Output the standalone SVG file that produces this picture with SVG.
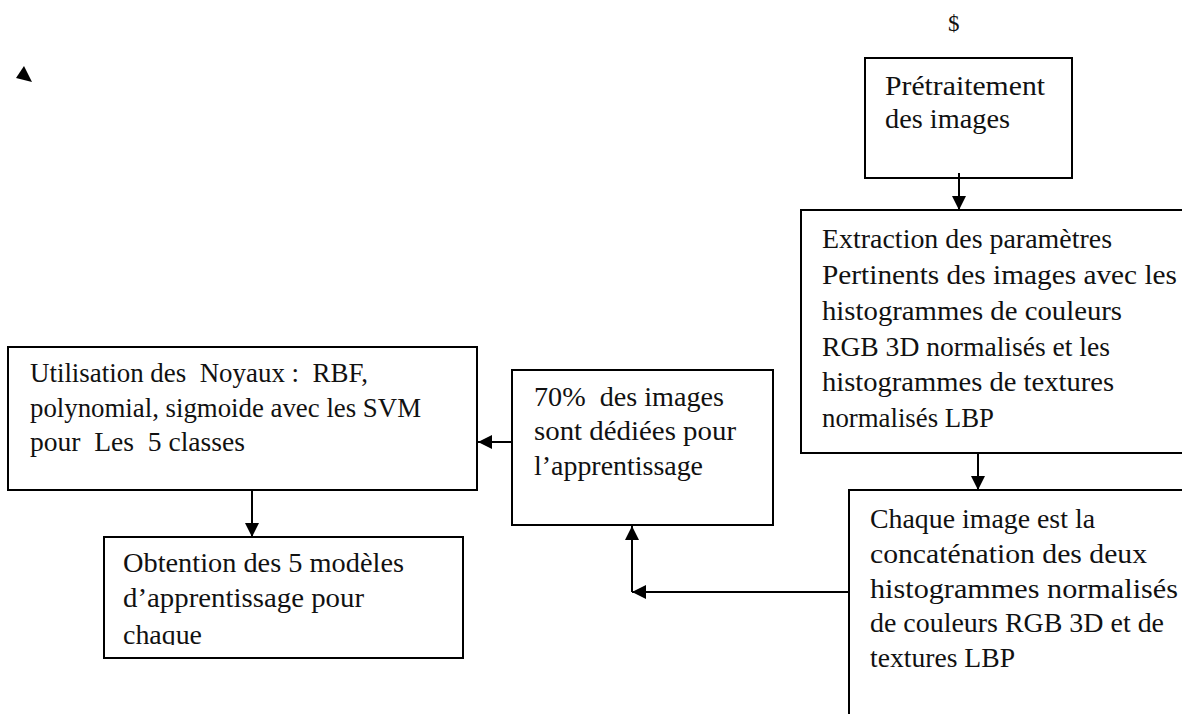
<svg xmlns="http://www.w3.org/2000/svg" width="1182" height="714" viewBox="0 0 1182 714">
<style>
.box{fill:#fff;stroke:#000;stroke-width:2}
.t{font-family:"Liberation Serif","Times New Roman",serif;font-size:28px;fill:#111}
.c{stroke:#000;stroke-width:2;fill:none}
</style>
<defs>
<marker id="ah" viewBox="0 0 14 14" refX="14" refY="7" markerWidth="14" markerHeight="14" orient="auto" markerUnits="userSpaceOnUse"><path d="M0,0 L14,7 L0,14 z" fill="#000"/></marker>
<clipPath id="clipObt"><rect x="104" y="537" width="359" height="108"/></clipPath>
</defs>
<rect width="1182" height="714" fill="#fff"/>
<polygon points="16,78 24,66 32,82" fill="#000"/>
<text x="948" y="31" style="font-family:'Liberation Serif',serif;font-size:23px;fill:#111">$</text>

<g id="n-pretraitement">
<rect class="box" x="865" y="58" width="207" height="120"/>
<text class="t" x="885" y="95" textLength="160" lengthAdjust="spacingAndGlyphs">Prétraitement</text>
<text class="t" x="885" y="128" textLength="125" lengthAdjust="spacingAndGlyphs">des images</text>
</g>

<g id="n-extraction">
<rect class="box" x="801" y="210" width="400" height="243"/>
<text class="t" x="822" y="248" textLength="290" lengthAdjust="spacingAndGlyphs">Extraction des paramètres</text>
<text class="t" x="822" y="284" textLength="355" lengthAdjust="spacingAndGlyphs">Pertinents des images avec les</text>
<text class="t" x="822" y="320" textLength="300" lengthAdjust="spacingAndGlyphs">histogrammes de couleurs</text>
<text class="t" x="822" y="356" textLength="288" lengthAdjust="spacingAndGlyphs">RGB 3D normalisés et les</text>
<text class="t" x="822" y="391" textLength="292" lengthAdjust="spacingAndGlyphs">histogrammes de textures</text>
<text class="t" x="822" y="427" textLength="172" lengthAdjust="spacingAndGlyphs">normalisés LBP</text>
</g>

<g id="n-chaque">
<rect class="box" x="849" y="490" width="360" height="240"/>
<text class="t" x="870" y="528" textLength="225" lengthAdjust="spacingAndGlyphs">Chaque image est la</text>
<text class="t" x="870" y="563" textLength="277" lengthAdjust="spacingAndGlyphs">concaténation des deux</text>
<text class="t" x="870" y="598" textLength="308" lengthAdjust="spacingAndGlyphs">histogrammes normalisés</text>
<text class="t" x="870" y="632" textLength="294" lengthAdjust="spacingAndGlyphs">de couleurs RGB 3D et de</text>
<text class="t" x="870" y="667" textLength="145" lengthAdjust="spacingAndGlyphs">textures LBP</text>
</g>

<g id="n-70">
<rect class="box" x="512" y="370" width="261" height="155"/>
<text class="t" x="534" y="406" textLength="190" lengthAdjust="spacingAndGlyphs" xml:space="preserve">70%  des images</text>
<text class="t" x="534" y="440" textLength="202" lengthAdjust="spacingAndGlyphs">sont dédiées pour</text>
<text class="t" x="534" y="475" textLength="169" lengthAdjust="spacingAndGlyphs">l’apprentissage</text>
</g>

<g id="n-utilisation">
<rect class="box" x="8" y="347" width="469" height="143"/>
<text class="t" x="30" y="382" textLength="338" lengthAdjust="spacingAndGlyphs" xml:space="preserve">Utilisation des  Noyaux :  RBF,</text>
<text class="t" x="30" y="417" textLength="391" lengthAdjust="spacingAndGlyphs">polynomial, sigmoide avec les SVM</text>
<text class="t" x="30" y="451" textLength="215" lengthAdjust="spacingAndGlyphs" xml:space="preserve">pour  Les  5 classes</text>
</g>

<g id="n-obtention">
<rect class="box" x="104" y="537" width="359" height="121"/>
<g clip-path="url(#clipObt)">
<text class="t" x="123" y="572" textLength="281" lengthAdjust="spacingAndGlyphs">Obtention des 5 modèles</text>
<text class="t" x="123" y="607" textLength="241" lengthAdjust="spacingAndGlyphs">d’apprentissage pour</text>
<text class="t" x="123" y="644" textLength="79" lengthAdjust="spacingAndGlyphs">chaque</text>
</g>
</g>

<g id="connectors">
<line class="c" x1="959" y1="173" x2="959" y2="210" marker-end="url(#ah)"/>
<line class="c" x1="978" y1="453" x2="978" y2="490" marker-end="url(#ah)"/>
<line class="c" x1="849" y1="592" x2="632" y2="592" marker-end="url(#ah)"/>
<line class="c" x1="632" y1="592" x2="632" y2="526" marker-end="url(#ah)"/>
<line class="c" x1="512" y1="442" x2="478" y2="442" marker-end="url(#ah)"/>
<line class="c" x1="252" y1="490" x2="252" y2="537" marker-end="url(#ah)"/>
</g>
</svg>
